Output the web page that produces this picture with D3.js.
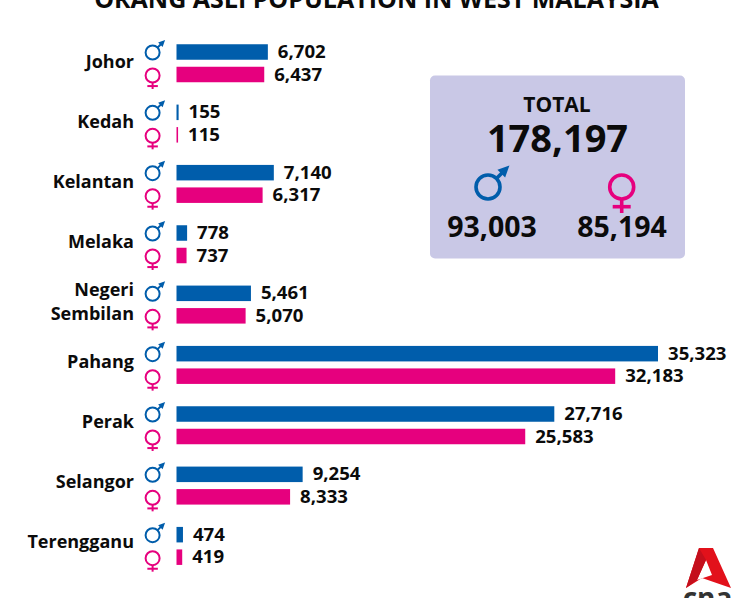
<!DOCTYPE html>
<html>
<head>
<meta charset="utf-8">
<script src="https://cdnjs.cloudflare.com/ajax/libs/d3/7.8.5/d3.min.js"></script>
<style>
    html, body { margin: 0; padding: 0; background: #fff; overflow: hidden; }
    text { font-family: "Open Sans", "Noto Sans", sans-serif; font-weight: 700; fill: #0b0b0b; }
</style>
</head>
<body>
<svg id="chart"></svg>
<script>
var states = ["Johor", "Kedah", "Kelantan", "Melaka", "Negeri Sembilan", "Pahang", "Perak", "Selangor", "Terengganu"];
var males = [6702, 155, 7140, 778, 5461, 35323, 27716, 9254, 474];
var females = [6437, 115, 6317, 737, 5070, 32183, 25583, 8333, 419];
var titleText = "ORANG ASLI POPULATION IN WEST MALAYSIA";
var totalLabel = "TOTAL";
var totalAll = 178197;
var totalMale = 93003;
var totalFemale = 85194;

var blue = "#005dab";
var pink = "#e6007e";
var width = 747, height = 598;
var fmt = d3.format(",");

var svg = d3.select("#chart").attr("width", width).attr("height", height);

var x = d3.scaleLinear().domain([0, 35323]).range([176.5, 658]);
var y = d3.scaleBand().domain(states).range([33, 576]).padding(0);
var labelY = d3.scalePoint().domain(states).range([67.5, 547.5]);
var barH = 15.5;

function maleY(s) { return y(s) + 19; }
function femaleY(s) { return y(s) + 41.5; }

svg.append("text")
    .attr("x", 376.5).attr("y", 8)
    .attr("text-anchor", "middle")
    .style("font-size", "25px")
    .text(titleText);

function maleIcon(g, cx, cy, r, sw) {
    var k = r / 7;
    g.append("circle").attr("cx", cx).attr("cy", cy).attr("r", r)
        .attr("fill", "none").attr("stroke", blue).attr("stroke-width", sw);
    g.append("line")
        .attr("x1", cx + 4.8 * k).attr("y1", cy - 4.8 * k)
        .attr("x2", cx + 9 * k).attr("y2", cy - 9 * k)
        .attr("stroke", blue).attr("stroke-width", sw);
    g.append("path")
        .attr("d", d3.line()([[cx + 12.5 * k, cy - 12.5 * k], [cx + 5.5 * k, cy - 10 * k], [cx + 10 * k, cy - 5.5 * k]]))
        .attr("fill", blue);
}

function femaleIcon(g, cx, cy, r, sw, stem) {
    g.append("circle").attr("cx", cx).attr("cy", cy).attr("r", r)
        .attr("fill", "none").attr("stroke", pink).attr("stroke-width", sw);
    g.append("line")
        .attr("x1", cx).attr("y1", cy + r)
        .attr("x2", cx).attr("y2", cy + r + stem)
        .attr("stroke", pink).attr("stroke-width", sw);
    g.append("line")
        .attr("x1", cx - 0.75 * r).attr("y1", cy + r + stem * 0.55)
        .attr("x2", cx + 0.75 * r).attr("y2", cy + r + stem * 0.55)
        .attr("stroke", pink).attr("stroke-width", sw);
}

var rows = svg.selectAll("g.row")
    .data(states)
    .enter()
    .append("g")
    .attr("class", "row");

rows.each(function (d, i) {
    var g = d3.select(this);

    var names = d === "Negeri Sembilan" ? ["Negeri", "Sembilan"] : [d];
    names.forEach(function (n, j) {
        g.append("text")
            .attr("x", 134)
            .attr("y", names.length > 1 ? labelY(d) - 11.5 + j * 24 : labelY(d))
            .attr("text-anchor", "end")
            .style("font-size", "18px")
            .text(n);
    });

    maleIcon(g, 152.6, maleY(d) + 0.5, 7, 2);
    femaleIcon(g, 152.6, femaleY(d) + 1, 7, 2, 6.5);

    g.append("rect")
        .attr("x", x(0)).attr("y", maleY(d) - barH / 2)
        .attr("width", x(males[i]) - x(0)).attr("height", barH)
        .attr("fill", blue);
    g.append("rect")
        .attr("x", x(0)).attr("y", femaleY(d) - barH / 2)
        .attr("width", x(females[i]) - x(0)).attr("height", barH)
        .attr("fill", pink);

    g.append("text")
        .attr("x", x(males[i]) + 10).attr("y", maleY(d) + 6)
        .style("font-size", "18.6px")
        .text(fmt(males[i]));
    g.append("text")
        .attr("x", x(females[i]) + 10).attr("y", femaleY(d) + 6)
        .style("font-size", "18.6px")
        .text(fmt(females[i]));
});

// total box
var box = svg.append("g");
box.append("rect")
    .attr("x", 430).attr("y", 75.5)
    .attr("width", 255).attr("height", 183)
    .attr("rx", 5)
    .attr("fill", "#c9c8e6");
box.append("text").attr("x", 557).attr("y", 112)
    .attr("text-anchor", "middle").style("font-size", "21px").text(totalLabel);
box.append("text").attr("x", 557.5).attr("y", 152)
    .attr("text-anchor", "middle").style("font-size", "38px").text(fmt(totalAll));
maleIcon(box, 488, 187, 12, 3.6);
femaleIcon(box, 621.7, 187, 12, 3.6, 14);
box.append("text").attr("x", 492).attr("y", 237)
    .attr("text-anchor", "middle").style("font-size", "28.5px").text(fmt(totalMale));
box.append("text").attr("x", 622).attr("y", 237)
    .attr("text-anchor", "middle").style("font-size", "28.5px").text(fmt(totalFemale));

// cna logo
var logo = svg.append("g");
logo.append("path")
    .attr("d", "M699 548 L713 548 L731 588 L702 578 L686 588 Z M706 560 L697 580 L712 575 Z")
    .attr("fill", "#e2111b").attr("fill-rule", "evenodd");
logo.append("path")
    .attr("d", "M699 548 L706 560 L697 580 L686 588 Z")
    .attr("fill", "#c40f1c");
logo.append("text").attr("x", 707.5).attr("y", 608)
    .attr("text-anchor", "middle").style("font-size", "28px").style("fill", "#333").text("cna");
</script>
</body>
</html>
